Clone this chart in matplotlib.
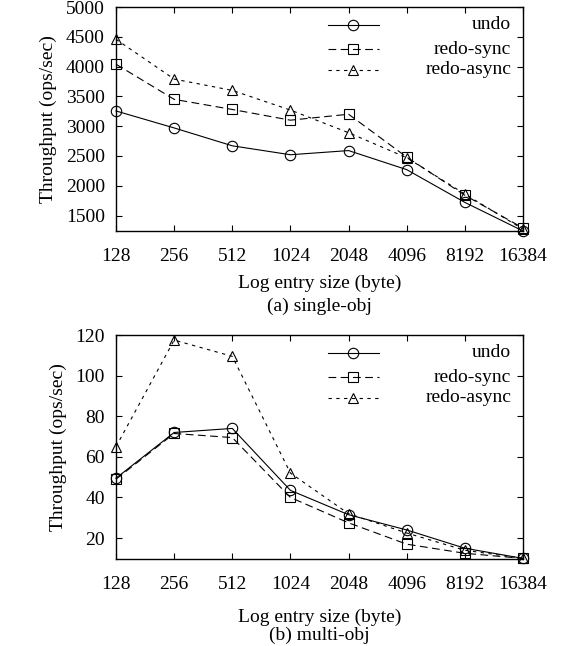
import matplotlib.pyplot as plt

sizes = [128, 256, 512, 1024, 2048, 4096, 8192, 16384]
size_labels = ["128", "256", "512", "1024", "2048", "4096", "8192", "16384"]

# (a) single-obj
single_undo = [3255, 2970, 2670, 2520, 2590, 2270, 1720, 1240]
single_redo_sync = [4040, 3450, 3280, 3100, 3200, 2480, 1840, 1290]
single_redo_async = [4458, 3790, 3600, 3270, 2890, 2470, 1860, 1270]

# (b) multi-obj
multi_undo = [49.5, 72, 74, 43.5, 31.5, 24, 15, 10]
multi_redo_sync = [49, 71.5, 69.5, 40, 27.5, 17, 12.5, 10]
multi_redo_async = [65, 117.5, 109.5, 52, 32, 22.5, 14, 10]

plt.rcParams['font.family'] = ['Liberation Serif', 'DejaVu Serif']
plt.rcParams['font.size'] = 14

styles = [
    ("undo", 'o', 7.5, '-'),
    ("redo-sync", 's', 7, (0, (7, 4))),
    ("redo-async", '^', 7, (0, (3, 4))),
]

def draw(ax, series, ylim, yticks):
    for (label, mk, ms, ls), ys in zip(styles, series):
        ax.plot(sizes, ys, color='black', linewidth=0.8, linestyle=ls,
                marker=mk, markersize=ms, markerfacecolor='none',
                markeredgewidth=0.8, markeredgecolor='black', clip_on=False)
    ax.set_xscale('log', base=2)
    ax.set_xlim(128, 16384)
    ax.set_xticks(sizes)
    ax.set_xticklabels(size_labels)
    ax.minorticks_off()
    ax.set_ylim(*ylim)
    ax.set_yticks(yticks)
    ax.tick_params(direction='in', top=True, right=True, length=4, width=0.8)
    ax.tick_params(axis='x', pad=12)
    ax.tick_params(axis='y', pad=8)
    for sp in ax.spines.values():
        sp.set_linewidth(1.0)
    ax.set_ylabel("Throughput (ops/sec)", labelpad=6)

    # gnuplot-style key: sample on the left, text right-aligned
    rows = [0.92, 0.8125, 0.719]
    for (label, mk, ms, ls), ry in zip(styles, rows):
        ax.plot([0.521, 0.646], [ry, ry], transform=ax.transAxes, color='black',
                linewidth=0.8, linestyle=ls)
        ax.plot([0.582], [ry], transform=ax.transAxes, marker=mk, markersize=ms,
                markerfacecolor='none', markeredgecolor='black', markeredgewidth=0.8)
        ax.text(0.971, ry, label, transform=ax.transAxes, ha='right', va='center')

fig = plt.figure(figsize=(5.64, 6.46), dpi=100)
ax1 = fig.add_axes([116/564, 1 - 231/646, 407/564, 224/646])
ax2 = fig.add_axes([116/564, 1 - 559/646, 407/564, 224/646])

draw(ax1, [single_undo, single_redo_sync, single_redo_async], (1240, 5000),
     [1500, 2000, 2500, 3000, 3500, 4000, 4500, 5000])
draw(ax2, [multi_undo, multi_redo_sync, multi_redo_async], (9.7, 120),
     [20, 40, 60, 80, 100, 120])

cx = (116 + 523) / 2 / 564
fig.text(cx, 1 - 283/646, "Log entry size (byte)", ha='center', va='center')
fig.text(cx, 1 - 306/646, "(a) single-obj", ha='center', va='center')
fig.text(cx, 1 - 617/646, "Log entry size (byte)", ha='center', va='center')
fig.text(cx, 1 - 635/646, "(b) multi-obj", ha='center', va='center')

fig.savefig("out.png", dpi=100)
